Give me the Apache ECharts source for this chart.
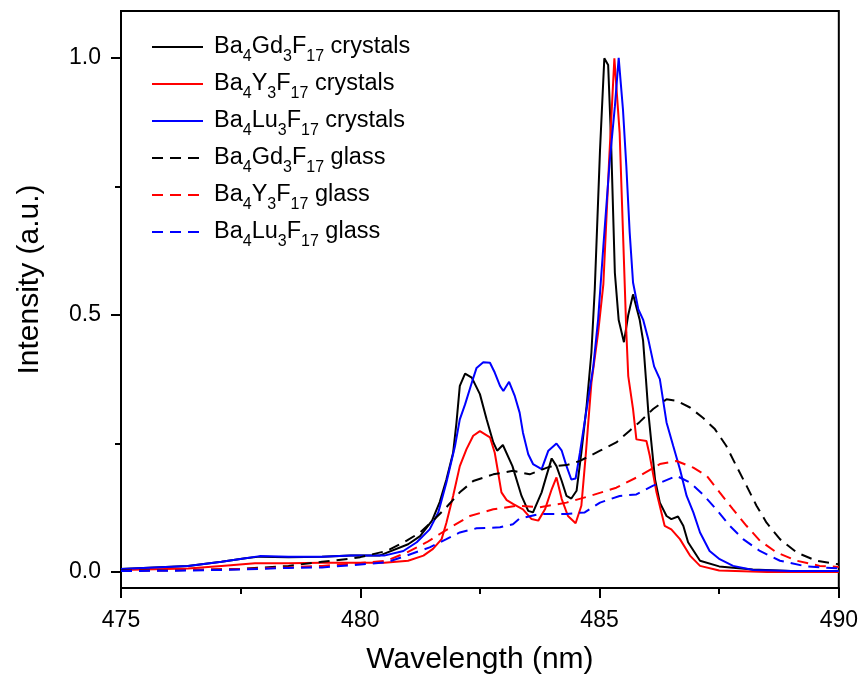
<!DOCTYPE html>
<html>
<head>
<meta charset="utf-8">
<script src="https://cdn.jsdelivr.net/npm/echarts@6/dist/echarts.min.js"></script>
<style>html,body{margin:0;padding:0;background:#fff}#c{width:861px;height:680px}</style>
</head>
<body>
<div id="c"></div>
<script>
var seriesNames = ['Ba4Gd3F17 crystals','Ba4Y3F17 crystals','Ba4Lu3F17 crystals','Ba4Gd3F17 glass','Ba4Y3F17 glass','Ba4Lu3F17 glass'];
var xTicks = [475, 480, 485, 490];
var yTicks = [0, 0.5, 1.0];
var yMinorTicks = [0.25, 0.75];

var gdCrystal = [[475,0.006],[476.4,0.012],[477.1,0.020],[477.6,0.027],[477.9,0.030],[478.5,0.029],[479.2,0.030],[479.8,0.032],[480.4,0.032],[481.0,0.054],[481.25,0.070],[481.5,0.10],[481.66,0.136],[481.8,0.18],[481.94,0.232],[482.01,0.29],[482.08,0.362],[482.19,0.386],[482.33,0.378],[482.5,0.346],[482.64,0.297],[482.78,0.252],[482.86,0.236],[482.98,0.247],[483.18,0.206],[483.37,0.148],[483.51,0.119],[483.61,0.116],[483.79,0.155],[483.89,0.187],[484.0,0.221],[484.1,0.206],[484.21,0.177],[484.31,0.148],[484.41,0.143],[484.52,0.158],[484.62,0.232],[484.73,0.323],[484.83,0.427],[484.9,0.55],[485.01,0.821],[485.1,0.999],[485.18,0.986],[485.24,0.841],[485.32,0.582],[485.4,0.49],[485.51,0.447],[485.6,0.50],[485.7,0.54],[485.84,0.49],[485.91,0.45],[485.97,0.375],[486.02,0.31],[486.09,0.245],[486.16,0.18],[486.26,0.135],[486.40,0.109],[486.50,0.103],[486.64,0.108],[486.75,0.09],[486.85,0.058],[487.1,0.022],[487.5,0.011],[488.2,0.005],[489,0.002],[490,0.001]];
var yCrystal = [[475,0.004],[476.4,0.007],[477.1,0.012],[477.8,0.017],[478.5,0.017],[479.2,0.018],[480.5,0.018],[481.0,0.022],[481.32,0.032],[481.52,0.045],[481.7,0.064],[481.8,0.096],[481.94,0.148],[482.08,0.206],[482.22,0.239],[482.36,0.265],[482.5,0.274],[482.71,0.262],[482.81,0.232],[482.88,0.194],[482.95,0.155],[483.06,0.140],[483.2,0.132],[483.4,0.122],[483.58,0.103],[483.72,0.10],[483.86,0.122],[484.0,0.161],[484.1,0.184],[484.21,0.142],[484.34,0.109],[484.5,0.095],[484.62,0.129],[484.71,0.226],[484.83,0.368],[484.97,0.465],[485.08,0.56],[485.2,0.80],[485.31,0.999],[485.42,0.854],[485.49,0.66],[485.56,0.466],[485.6,0.381],[485.7,0.317],[485.77,0.258],[485.98,0.255],[486.05,0.226],[486.19,0.155],[486.36,0.09],[486.5,0.083],[486.68,0.064],[486.89,0.032],[487.1,0.012],[487.5,0.003],[488.5,0.0],[490,0.0]];
var luCrystal = [[475,0.006],[476.4,0.012],[477.1,0.020],[477.6,0.027],[477.9,0.031],[478.5,0.030],[479.2,0.030],[479.8,0.032],[480.5,0.032],[480.9,0.041],[481.18,0.058],[481.45,0.083],[481.63,0.116],[481.8,0.174],[481.98,0.245],[482.08,0.297],[482.19,0.326],[482.33,0.368],[482.43,0.397],[482.57,0.408],[482.71,0.407],[482.81,0.388],[482.92,0.362],[482.99,0.352],[483.11,0.37],[483.23,0.342],[483.33,0.31],[483.4,0.271],[483.51,0.229],[483.61,0.21],[483.79,0.20],[483.93,0.236],[484.1,0.25],[484.21,0.236],[484.31,0.206],[484.41,0.18],[484.5,0.182],[484.59,0.232],[484.73,0.317],[484.87,0.40],[484.97,0.491],[485.08,0.634],[485.21,0.796],[485.32,0.905],[485.4,1.0],[485.49,0.899],[485.56,0.789],[485.63,0.66],[485.7,0.563],[485.81,0.511],[485.91,0.491],[486.02,0.452],[486.14,0.40],[486.26,0.375],[486.4,0.291],[486.54,0.245],[486.68,0.20],[486.82,0.148],[486.96,0.116],[487.1,0.077],[487.3,0.041],[487.51,0.025],[487.79,0.012],[488.21,0.004],[489,0.002],[490,0.002]];
var gdGlass = [[475,0.003],[476.5,0.004],[477.5,0.006],[478.5,0.012],[479.2,0.020],[479.8,0.026],[480.0,0.029],[480.55,0.041],[480.97,0.061],[481.25,0.077],[481.52,0.10],[481.8,0.126],[482.08,0.155],[482.36,0.177],[482.78,0.19],[483.19,0.197],[483.54,0.19],[483.96,0.205],[484.31,0.208],[484.59,0.216],[485.01,0.236],[485.35,0.252],[485.63,0.275],[485.84,0.292],[486.12,0.317],[486.4,0.336],[486.61,0.333],[486.89,0.32],[487.16,0.30],[487.41,0.278],[487.65,0.245],[487.86,0.206],[488.07,0.168],[488.28,0.129],[488.49,0.096],[488.77,0.064],[489.12,0.038],[489.53,0.022],[490,0.015]];
var yGlass = [[475,0.002],[476.5,0.004],[477.5,0.006],[478.5,0.009],[479.2,0.012],[479.8,0.016],[480.55,0.022],[480.97,0.038],[481.39,0.058],[481.66,0.074],[481.94,0.09],[482.29,0.109],[482.78,0.122],[483.27,0.129],[483.75,0.126],[484.31,0.135],[484.8,0.148],[485.35,0.164],[485.84,0.187],[486.26,0.21],[486.61,0.216],[486.96,0.203],[487.24,0.187],[487.51,0.155],[487.79,0.122],[488.07,0.09],[488.35,0.061],[488.7,0.038],[489.12,0.022],[489.6,0.012],[490,0.01]];
var luGlass = [[475,0.002],[476.5,0.003],[477.5,0.005],[478.5,0.008],[479.2,0.009],[479.8,0.013],[480.55,0.019],[480.97,0.032],[481.45,0.048],[481.8,0.064],[482.08,0.077],[482.43,0.085],[482.92,0.087],[483.19,0.093],[483.33,0.104],[483.75,0.113],[484.31,0.113],[484.69,0.116],[485.01,0.135],[485.42,0.148],[485.77,0.151],[486.12,0.168],[486.61,0.187],[486.89,0.174],[487.16,0.151],[487.44,0.122],[487.72,0.09],[488.0,0.064],[488.35,0.041],[488.77,0.022],[489.32,0.011],[490,0.007]];

var legendRich = {
  '4Gd': '{m|Ba}{s|4}{m|Gd}{s|3}{m|F}{s|17}',
  '4Y': '{m|Ba}{s|4}{m|Y}{s|3}{m|F}{s|17}',
  '4Lu': '{m|Ba}{s|4}{m|Lu}{s|3}{m|F}{s|17}'
};
function fmtLegend(name) {
  var parts = name.split(' ');
  var key = parts[0].replace('Ba', '').replace(/3F17$/, '');
  return legendRich[key] + '{m| ' + parts[1] + '}';
}

var colors = ['#000000', '#ff0000', '#0000ff', '#000000', '#ff0000', '#0000ff'];
var datas = [gdCrystal, yCrystal, luCrystal, gdGlass, yGlass, luGlass];
var series = datas.map(function (d, i) {
  return {
    name: seriesNames[i],
    type: 'line',
    data: d,
    showSymbol: false,
    symbol: 'none',
    symbolSize: 0,
    smooth: false,
    animation: false,
    lineStyle: { color: colors[i], width: 2, type: i >= 3 ? [11, 7] : 'solid' },
    itemStyle: { color: colors[i] }
  };
});

var FONT = 'Liberation Sans, Arial, sans-serif';
var chart = echarts.init(document.getElementById('c'), null, { renderer: 'canvas' });
chart.setOption({
  backgroundColor: '#ffffff',
  animation: false,
  grid: { left: 121, right: 22, top: 11, bottom: 91, show: true, borderColor: '#000', borderWidth: 2, backgroundColor: 'transparent' },
  legend: {
    orient: 'vertical',
    left: 151,
    top: 33,
    padding: 0,
    itemWidth: 51,
    itemHeight: 10,
    itemGap: 5,
    itemStyle: { opacity: 0 },
    formatter: fmtLegend,
    textStyle: {
      fontFamily: FONT,
      color: '#000',
      padding: [0, 0, 0, 6],
      rich: {
        m: { fontSize: 23.5, fontFamily: FONT, color: '#000', lineHeight: 28, verticalAlign: 'middle' },
        s: { fontSize: 16, fontFamily: FONT, color: '#000', lineHeight: 6, verticalAlign: 'top', padding: [16, 0, 0, 0] }
      }
    },
    data: seriesNames
  },
  xAxis: {
    type: 'value',
    min: 475,
    max: 490,
    interval: 5,
    name: 'Wavelength (nm)',
    nameLocation: 'middle',
    nameGap: 57,
    nameTextStyle: { fontSize: 30, fontFamily: FONT, color: '#000' },
    axisLine: { show: true, onZero: false, lineStyle: { color: '#000', width: 2 } },
    axisTick: { show: true, inside: false, length: 10, lineStyle: { color: '#000', width: 2 } },
    minorTick: { show: true, splitNumber: 2, length: 6, lineStyle: { color: '#000', width: 2 } },
    axisLabel: { fontSize: 23, fontFamily: FONT, color: '#000', margin: 21, customValues: xTicks },
    splitLine: { show: false }
  },
  yAxis: [{
    type: 'value',
    min: -0.031,
    max: 1.091,
    name: 'Intensity (a.u.)',
    nameLocation: 'middle',
    nameGap: 76,
    nameTextStyle: { fontSize: 30, fontFamily: FONT, color: '#000', padding: [0, 0, 0, 40] },
    axisLine: { show: true, onZero: false, lineStyle: { color: '#000', width: 2 } },
    axisTick: { show: true, inside: false, length: 10, customValues: yTicks, lineStyle: { color: '#000', width: 2 } },
    axisLabel: { fontSize: 23, fontFamily: FONT, color: '#000', margin: 20, customValues: yTicks,
      formatter: function (v) { return v.toFixed(1); } },
    splitLine: { show: false }
  }, {
    type: 'value',
    position: 'left',
    min: -0.031,
    max: 1.091,
    axisLine: { show: false },
    axisTick: { show: true, inside: false, length: 6, customValues: yMinorTicks, lineStyle: { color: '#000', width: 2 } },
    axisLabel: { show: false },
    splitLine: { show: false }
  }],
  series: series
});
</script>
</body>
</html>
